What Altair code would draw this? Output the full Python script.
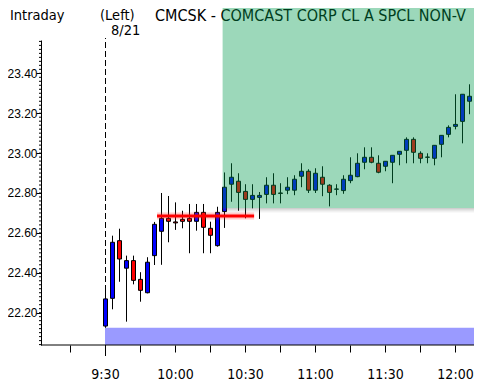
import altair as alt
import pandas as pd

# ---------------- data (3-minute candles) ----------------
times = ["9:30", "9:33", "9:36", "9:39", "9:42", "9:45", "9:48", "9:51", "9:54", "9:57",
         "10:00", "10:03", "10:06", "10:09", "10:12", "10:15", "10:18", "10:21", "10:24", "10:27",
         "10:30", "10:33", "10:36", "10:39", "10:42", "10:45", "10:48", "10:51", "10:54", "10:57",
         "11:00", "11:03", "11:06", "11:09", "11:12", "11:15", "11:18", "11:21", "11:24", "11:27",
         "11:30", "11:33", "11:36", "11:39", "11:42", "11:45", "11:48", "11:51", "11:54", "11:57",
         "12:00", "12:03", "12:06"]
opens = [22.133, 22.272, 22.561, 22.423, 22.461, 22.367, 22.300, 22.486, 22.608, 22.673,
         22.655, 22.668, 22.673, 22.658, 22.703, 22.623, 22.536, 22.707, 22.844, 22.859,
         22.808, 22.768, 22.778, 22.793, 22.839, 22.800, 22.814, 22.814, 22.884, 22.909,
         22.814, 22.879, 22.839, 22.819, 22.812, 22.862, 22.882, 22.954, 22.979, 22.949,
         22.934, 22.954, 22.994, 23.014, 23.069, 22.999, 22.980, 22.974, 23.044, 23.094,
         23.134, 23.159, 23.260]
highs = [22.310, 22.586, 22.621, 22.486, 22.486, 22.403, 22.478, 22.655, 22.800, 22.785,
         22.753, 22.711, 22.745, 22.745, 22.745, 22.656, 22.731, 22.903, 22.949, 22.899,
         22.844, 22.844, 22.805, 22.879, 22.899, 22.849, 22.879, 22.889, 22.949, 22.919,
         22.924, 22.934, 22.844, 22.844, 22.889, 22.979, 22.999, 23.029, 23.029, 22.989,
         22.959, 22.989, 23.009, 23.079, 23.079, 23.009, 22.999, 23.039, 23.089, 23.139,
         23.295, 23.295, 23.345]
lows = [22.120, 22.217, 22.355, 22.155, 22.342, 22.255, 22.297, 22.439, 22.440, 22.553,
        22.615, 22.623, 22.498, 22.611, 22.498, 22.498, 22.531, 22.625, 22.756, 22.711,
        22.673, 22.723, 22.670, 22.748, 22.748, 22.748, 22.794, 22.789, 22.829, 22.800,
        22.800, 22.784, 22.733, 22.789, 22.796, 22.849, 22.879, 22.919, 22.949, 22.899,
        22.909, 22.849, 22.939, 22.949, 22.949, 22.949, 22.949, 22.939, 22.979, 23.079,
        23.119, 23.049, 23.195]
closes = [22.269, 22.553, 22.469, 22.461, 22.362, 22.312, 22.453, 22.643, 22.673, 22.658,
          22.650, 22.658, 22.658, 22.703, 22.628, 22.588, 22.703, 22.829, 22.879, 22.803,
          22.768, 22.788, 22.788, 22.839, 22.793, 22.798, 22.829, 22.869, 22.909, 22.814,
          22.899, 22.844, 22.803, 22.820, 22.869, 22.889, 22.949, 22.979, 22.954, 22.904,
          22.959, 22.989, 23.009, 23.069, 23.004, 22.974, 22.979, 23.039, 23.089, 23.129,
          23.144, 23.295, 23.285]

# axis ticks / labels
y_tick_values = [22.20, 22.40, 22.60, 22.80, 23.00, 23.20, 23.40]
x_tick_times = ["9:15", "9:30", "9:45", "10:00", "10:15", "10:30", "10:45", "11:00",
                "11:15", "11:30", "11:45", "12:00"]
x_label_times = ["9:30", "10:00", "10:30", "11:00", "11:30", "12:00"]

# annotations
session_open = "9:30"
support_price = 22.685
support_from, support_to = "9:52.3", "10:33.9"
green_zone_from = "10:20.4"
green_zone_low = 22.725
blue_band_high = 22.124

title_left = "Intraday"
title_mid = "(Left)"
title_date = "8/21"
title_sym = "CMCSK - COMCAST CORP CL A SPCL NON-V"


def to_min(s):
    h, m = s.split(":")
    return int(h) * 60 + float(m) - 570


W, H = 433, 305
X_MIN = -27.43
X_MAX = X_MIN + W * 30 / 70
Y_MIN, Y_MAX = 22.038, 23.567
X_LINE_END = 158.6

xs = alt.Scale(domain=[X_MIN, X_MAX], nice=False, zero=False, padding=0)
ys = alt.Scale(domain=[Y_MIN, Y_MAX], nice=False, zero=False, padding=0)

FONT = "DejaVu Sans Condensed"
YFONT = "Liberation Sans"

label_expr = " : ".join(
    f"datum.value == {to_min(t):g} ? '{t}'" for t in x_label_times) + " : ''"

xaxis = alt.Axis(values=[to_min(t) for t in x_tick_times], labelExpr=label_expr,
                 tickSize=7, tickColor="black", domain=False, grid=False, title="",
                 labelFont=FONT, labelFontSize=14, labelColor="black",
                 labelBaseline="alphabetic", labelPadding=26, labelOverlap=False,
                 labelFlush=False)
yaxis = alt.Axis(values=y_tick_values, format=".2f", tickSize=5, tickColor="black",
                 domainColor="black", grid=False, title="", labelFont=YFONT,
                 labelFontSize=12, labelColor="black", labelPadding=-1,
                 labelOverlap=False, labelFlush=False)


def X(field):
    return alt.X(field, scale=xs, axis=xaxis)


def Y(field):
    return alt.Y(field, scale=ys, axis=yaxis)


df = pd.DataFrame({
    "t": [to_min(t) for t in times],
    "open": opens, "high": highs, "low": lows, "close": closes,
})
df["dir"] = ["up" if c > o else "down" for o, c in zip(opens, closes)]

one = pd.DataFrame({"_": [0]})

wicks = alt.Chart(df).mark_rule(color="black", strokeWidth=1, xOffset=0.5).encode(
    x=X("t:Q"), y=Y("low:Q"), y2="high:Q")
bodies = alt.Chart(df).mark_bar(size=4, stroke="black", strokeWidth=1, xOffset=0.5).encode(
    x=X("t:Q"), y=Y("open:Q"), y2="close:Q",
    color=alt.Color("dir:N", scale=alt.Scale(domain=["up", "down"],
                                             range=["#0000ff", "#ff0000"]), legend=None),
)

# minor ticks on the y axis (every 0.02)
minor_vals = [round(22.04 + 0.02 * i, 2) for i in range(77)]
minor = alt.Chart(pd.DataFrame({"v": minor_vals})).mark_rule(color="black", strokeWidth=1).encode(
    y=Y("v:Q"), x=alt.value(-2), x2=alt.value(0))

# dashed session open line
dash_df = pd.DataFrame({"t": [to_min(session_open)], "y1": [Y_MIN], "y2": [Y_MAX + 0.01]})
dashed = alt.Chart(dash_df).mark_rule(color="black", strokeWidth=1, strokeDash=[6, 3],
                                      clip=False, xOffset=0.5).encode(
    x=X("t:Q"), y=Y("y1:Q"), y2="y2:Q")
open_tick = alt.Chart(dash_df).mark_rule(color="black", strokeWidth=1, clip=False, xOffset=0.5).encode(
    x=X("t:Q"), y=alt.value(H), y2=alt.value(H + 11))

# support line with glow
sup_df = pd.DataFrame({"t1": [to_min(support_from)], "t2": [to_min(support_to)], "p": [support_price]})
glow = alt.Chart(sup_df).mark_rule(color="#ff3030", strokeWidth=7, opacity=0.25).encode(
    x=X("t1:Q"), x2="t2:Q", y=Y("p:Q"))
sup = alt.Chart(sup_df).mark_rule(color="#ff0000", strokeWidth=3).encode(
    x=X("t1:Q"), x2="t2:Q", y=Y("p:Q"))


def txt(s, x, y, size):
    return alt.Chart(one).mark_text(align="left", baseline="alphabetic", font=FONT,
                                    fontSize=size, color="black", clip=False).encode(
        x=alt.value(x), y=alt.value(y), text=alt.value(s))


t1 = txt(title_left, -31, -20, 14.5)
t2 = txt(title_mid, 59, -20, 14.5)
t3 = txt(title_date, 70, -5, 14.5)
t4 = txt(title_sym, 114, -19, 16)

# green zone overlay (translucent, on top of candles and text)
g_df = pd.DataFrame({"t1": [to_min(green_zone_from)], "t2": [X_MAX], "p1": [green_zone_low], "p2": [Y_MAX + 0.3]})
green = alt.Chart(g_df).mark_rect(color="#009a4d", opacity=0.39, clip=False).encode(
    x=X("t1:Q"), x2="t2:Q", y=Y("p1:Q"), y2="p2:Q")
shadows = []
for i, op in enumerate([0.30, 0.22, 0.15, 0.09, 0.04]):
    shadows.append(alt.Chart(g_df).mark_rect(color="#606060", opacity=op, yOffset=i, y2Offset=i + 1).encode(
        x=X("t1:Q"), x2="t2:Q", y=Y("p1:Q"), y2="p1:Q"))

# blue band at the bottom
b_df = pd.DataFrame({"t1": [to_min(session_open)], "t2": [X_MAX], "p1": [Y_MIN], "p2": [blue_band_high]})
blue = alt.Chart(b_df).mark_rect(color="#9a9aff").encode(
    x=X("t1:Q"), x2="t2:Q", y=Y("p1:Q"), y2="p2:Q")

# x axis baseline
base_df = pd.DataFrame({"t1": [X_MIN], "t2": [X_LINE_END], "p": [Y_MIN]})
xline = alt.Chart(base_df).mark_rule(color="black", strokeWidth=1).encode(
    x=X("t1:Q"), x2="t2:Q", y=Y("p:Q"))

chart = alt.layer(
    wicks, minor, dashed, open_tick, bodies, glow, sup, t1, t2, t3, t4,
    green, *shadows, blue, xline
).properties(
    width=W, height=H,
    autosize=alt.AutoSizeParams(type="none"),
    padding={"left": 33, "top": 32, "right": 0, "bottom": 38},
    background="white",
).configure_view(stroke=None)

chart.save("out.html", embed_options={"renderer": "svg", "actions": False})
